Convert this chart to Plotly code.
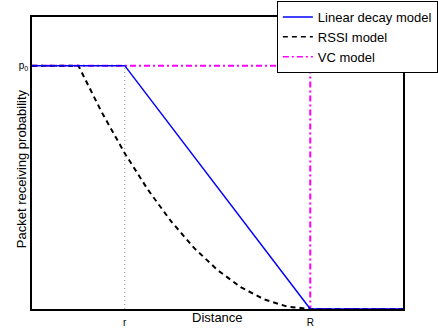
import plotly.graph_objects as go

# Distance axis: r = 1, R = 3; probability axis: p0 = 1
tick_x_vals = [1, 3]
tick_x_text = ["r", "R"]
tick_y_vals = [1]
tick_y_text = ["p<sub>0</sub>"]

linear_x = [0, 1, 3, 4]
linear_y = [1, 1, 0, 0]

rssi_x = [0, 0.5, 0.75, 1.0, 1.25, 1.5, 1.75, 2.0, 2.25, 2.5, 2.75, 3.0, 4.0]
rssi_y = [1, 1, 0.81, 0.64, 0.49, 0.36, 0.25, 0.16, 0.09, 0.04, 0.01, 0, 0]

vc_x = [0, 3, 3, 4]
vc_y = [1, 1, 0, 0]

guide_x = [1, 1]
guide_y = [0, 1]

font_family = "Liberation Sans, Arial, sans-serif"

fig = go.Figure()
fig.add_trace(go.Scatter(x=guide_x, y=guide_y, mode="lines", showlegend=False,
                         line=dict(color="#999999", width=1, dash="1px,3px"), hoverinfo="skip"))
fig.add_trace(go.Scatter(x=vc_x, y=vc_y, mode="lines", name="VC model", showlegend=False,
                         line=dict(color="#ff00ff", width=2, dash="6px,3px,2px,3px")))
fig.add_trace(go.Scatter(x=rssi_x, y=rssi_y, mode="lines", name="RSSI model", showlegend=False,
                         line=dict(color="black", width=2, dash="5px,4px")))
fig.add_trace(go.Scatter(x=linear_x, y=linear_y, mode="lines", name="Linear decay model",
                         line=dict(color="#0000ff", width=1.5)))
# legend entries in original order
fig.add_trace(go.Scatter(x=[None], y=[None], mode="lines", name="RSSI model",
                         line=dict(color="black", width=1.5, dash="5px,4px")))
fig.add_trace(go.Scatter(x=[None], y=[None], mode="lines", name="VC model",
                         line=dict(color="#ff00ff", width=1.5, dash="6px,3px,2px,3px")))

fig.update_layout(
    width=438, height=333,
    margin=dict(l=32, r=35, t=17, b=24, autoexpand=False),
    paper_bgcolor="white", plot_bgcolor="white",
    font=dict(family=font_family, color="black", size=11),
    legend=dict(x=0.66, y=1.0548, xanchor="left", yanchor="top",
                bgcolor="white", bordercolor="black", borderwidth=1,
                font=dict(size=13, family=font_family), tracegroupgap=0,
                traceorder="normal"),
    xaxis=dict(range=[0, 4], tickvals=tick_x_vals, ticktext=tick_x_text,
               showgrid=False, zeroline=False, showline=True, linecolor="black",
               linewidth=1.5, mirror=True, ticks="", tickfont=dict(size=10),
               ticklabelstandoff=3),
    yaxis=dict(range=[0, 1.2], tickvals=tick_y_vals, ticktext=tick_y_text,
               showgrid=False, zeroline=False, showline=True, linecolor="black",
               linewidth=1.5, mirror=True, ticks="", tickfont=dict(size=10)),
    annotations=[
        dict(text="Distance", xref="paper", yref="paper", x=0.5, y=-0.0308,
             xanchor="center", yanchor="middle", showarrow=False, font=dict(size=13)),
        dict(text="Packet receiving probability", xref="paper", yref="paper",
             x=-0.0296, y=0.479, textangle=-90, xanchor="center", yanchor="middle",
             showarrow=False, font=dict(size=13)),
    ],
)

fig.write_html("out.html", config={"displayModeBar": False},
               post_script="document.body.style.margin='0';")
